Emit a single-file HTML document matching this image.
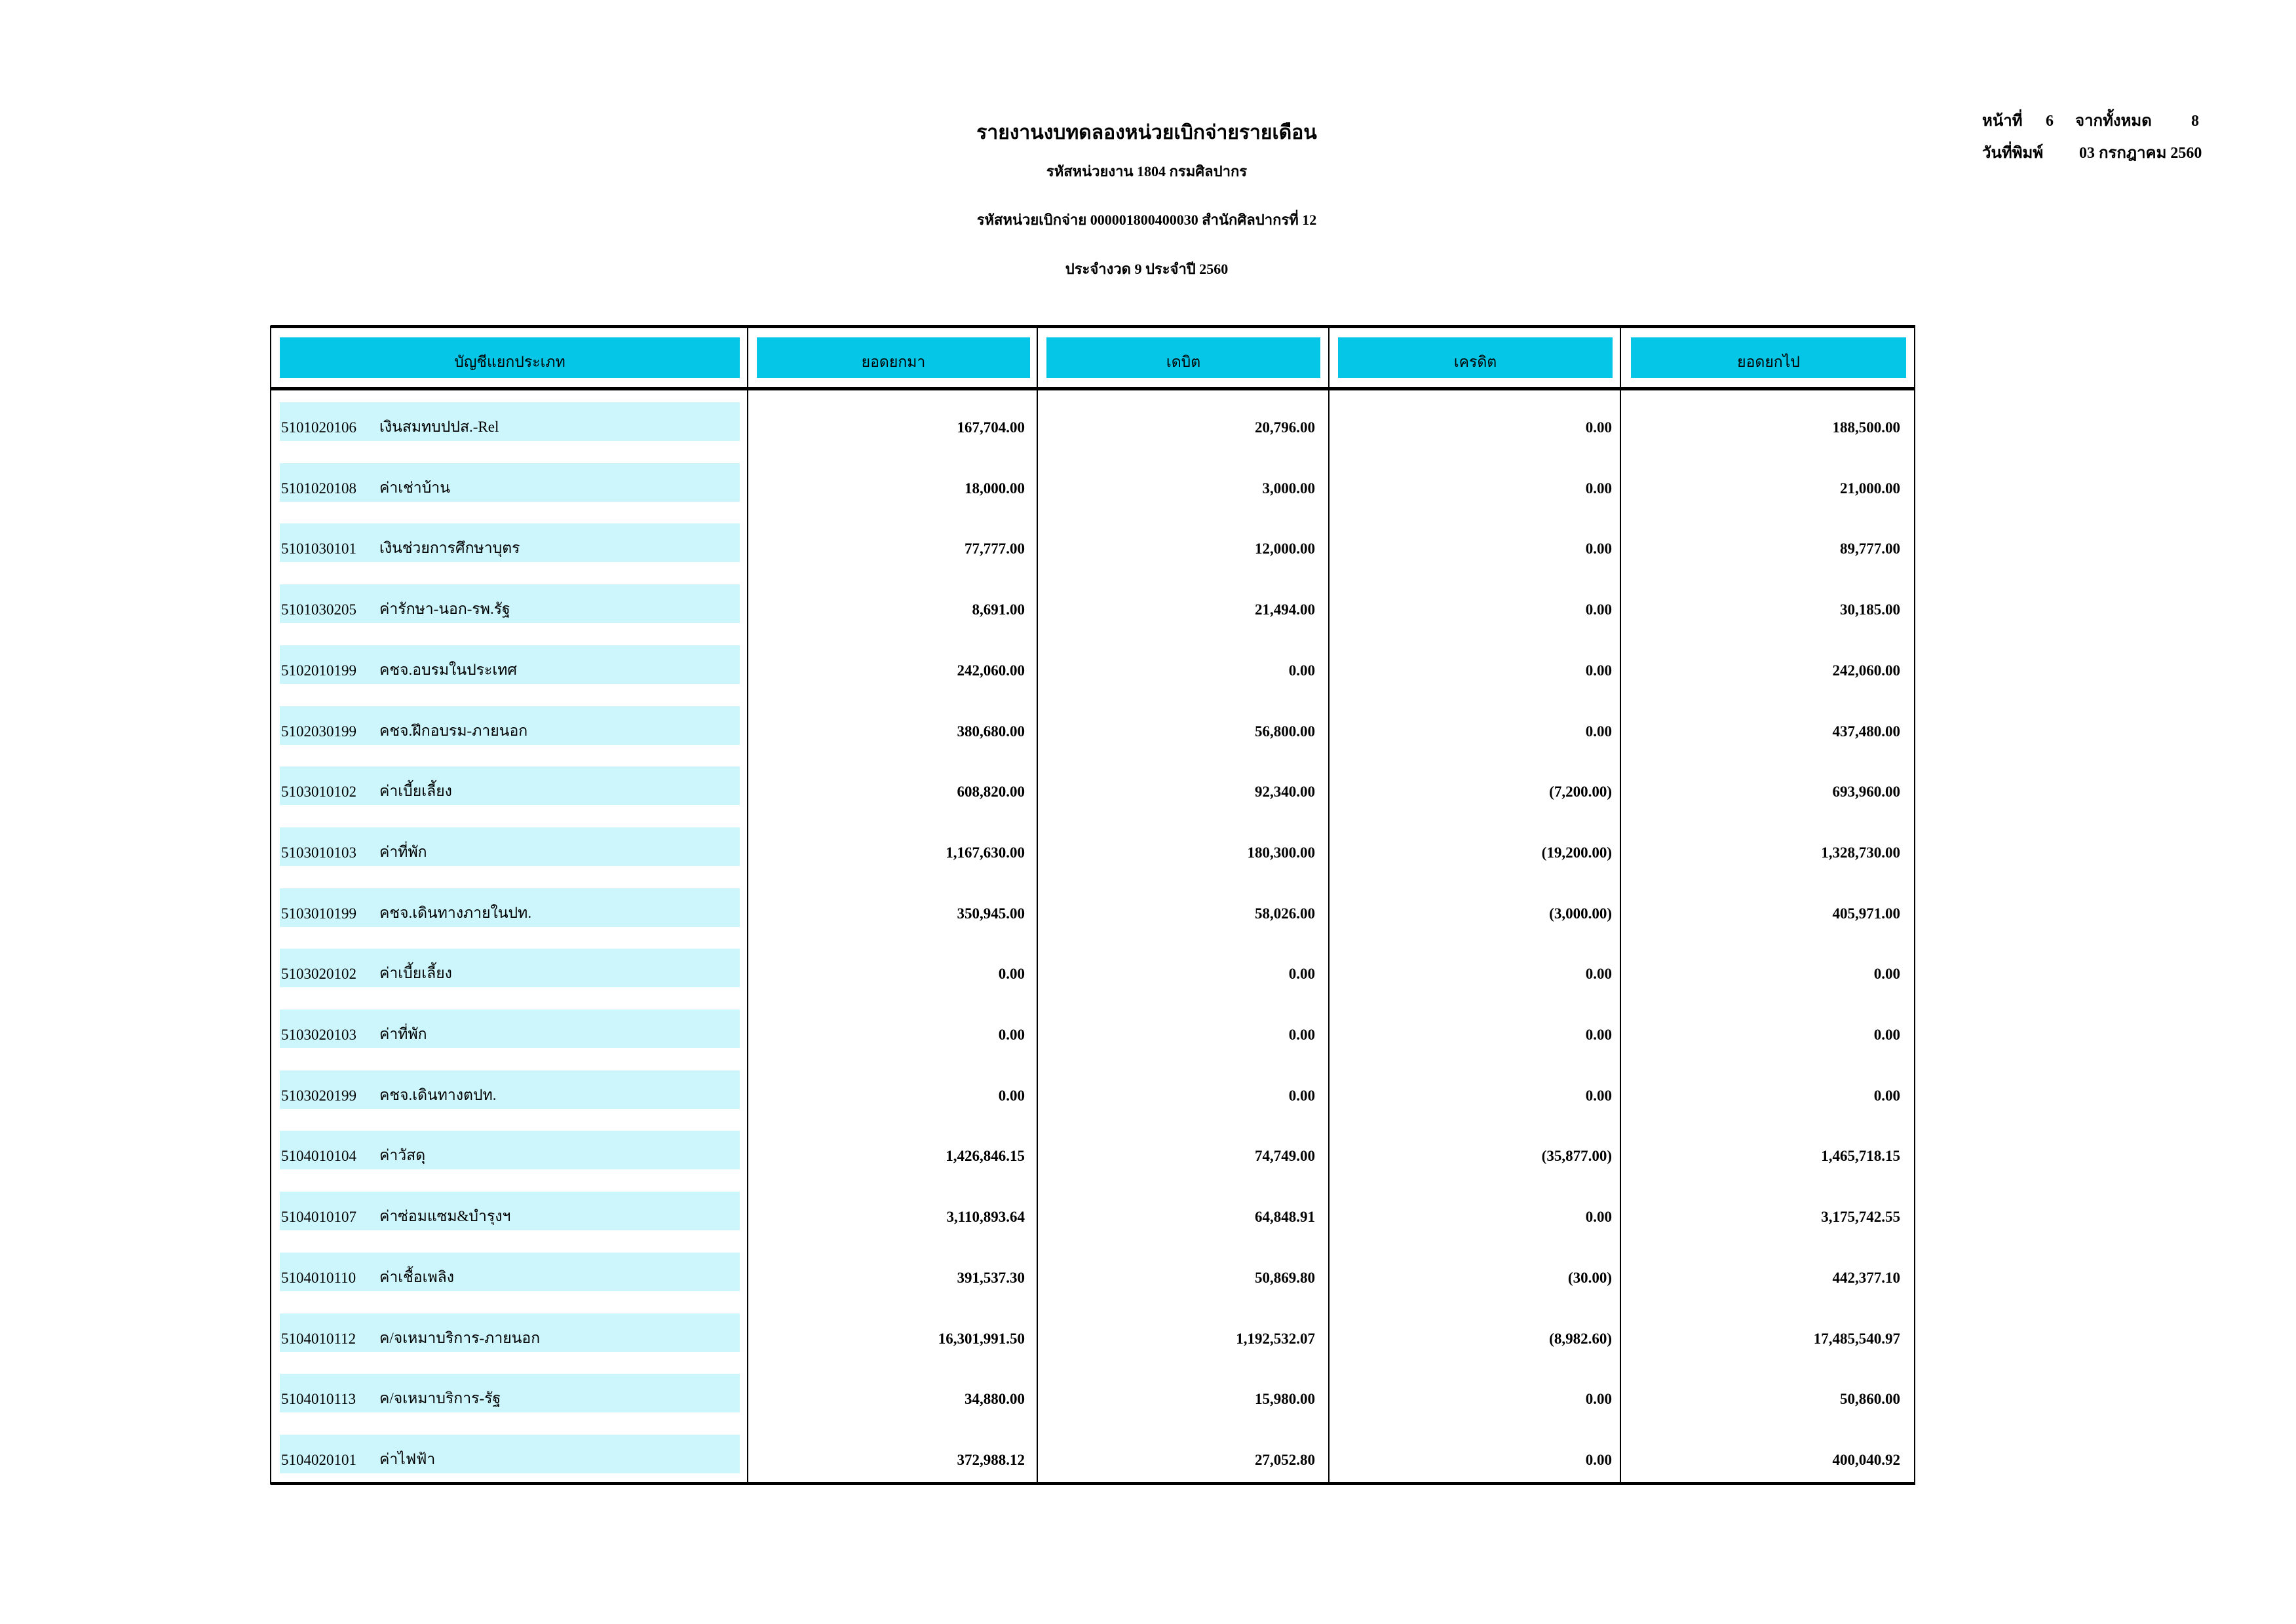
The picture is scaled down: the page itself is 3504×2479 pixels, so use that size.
<!DOCTYPE html>
<html><head><meta charset="utf-8"><style>
body{margin:0;width:3504px;height:2479px;background:#fff;position:relative;overflow:hidden;font-family:"Liberation Serif","DejaVu Serif",serif;color:#000}
.t{position:absolute;white-space:nowrap;line-height:1}
.c{text-align:center}
.b{font-weight:bold}
.box{position:absolute}
.hd{background:#05c6e6}
.lt{background:#ccf6fc}
.vl{position:absolute;top:497px;height:1769px;width:2px;background:#000}
.r{position:absolute;text-align:right;font-weight:bold;font-size:23px;white-space:nowrap;line-height:1}
.code{position:absolute;left:429px;font-size:23px;white-space:nowrap;line-height:1}
.nm{position:absolute;left:579px;font-size:23px;white-space:nowrap;line-height:1}
</style></head><body>
<div class="t c b" style="left:1250px;width:1000px;top:188px;font-size:30px">รายงานงบทดลองหน่วยเบิกจ่ายรายเดือน</div>
<div class="t c b" style="left:1250px;width:1000px;top:251px;font-size:22px">รหัสหน่วยงาน 1804 กรมศิลปากร</div>
<div class="t c b" style="left:1250px;width:1000px;top:325px;font-size:22px">รหัสหน่วยเบิกจ่าย 000001800400030 สำนักศิลปากรที่ 12</div>
<div class="t c b" style="left:1250px;width:1000px;top:400px;font-size:22px">ประจำงวด 9 ประจำปี 2560</div>
<div class="t b" style="left:3025px;top:173px;font-size:24px">หน้าที่</div>
<div class="t b" style="left:3122px;top:173px;font-size:24px">6</div>
<div class="t b" style="left:3167px;top:173px;font-size:24px">จากทั้งหมด</div>
<div class="t b" style="left:3344px;top:173px;font-size:24px">8</div>
<div class="t b" style="left:3025px;top:222px;font-size:24px">วันที่พิมพ์</div>
<div class="t b" style="left:3173px;top:222px;font-size:24px">03 กรกฎาคม 2560</div>

<div class="box" style="left:413px;top:496px;width:2510px;height:5px;background:#000"></div>
<div class="box" style="left:413px;top:591px;width:2510px;height:5px;background:#000"></div>
<div class="box" style="left:413px;top:2262px;width:2510px;height:5px;background:#000"></div>
<div class="vl" style="left:412px"></div>
<div class="vl" style="left:1140px"></div>
<div class="vl" style="left:1582px"></div>
<div class="vl" style="left:2027px"></div>
<div class="vl" style="left:2472px"></div>
<div class="vl" style="left:2921px"></div>

<div class="box hd" style="left:427px;top:515px;width:702px;height:62px"></div>
<div class="box hd" style="left:1155px;top:515px;width:417px;height:62px"></div>
<div class="box hd" style="left:1597px;top:515px;width:418px;height:62px"></div>
<div class="box hd" style="left:2042px;top:515px;width:419px;height:62px"></div>
<div class="box hd" style="left:2489px;top:515px;width:420px;height:62px"></div>
<div class="t c" style="left:427px;width:702px;top:541px;font-size:23px">บัญชีแยกประเภท</div>
<div class="t c" style="left:1155px;width:417px;top:541px;font-size:23px">ยอดยกมา</div>
<div class="t c" style="left:1597px;width:418px;top:541px;font-size:23px">เดบิต</div>
<div class="t c" style="left:2042px;width:419px;top:541px;font-size:23px">เครดิต</div>
<div class="t c" style="left:2489px;width:420px;top:541px;font-size:23px">ยอดยกไป</div>

<div id="rows"></div>
<script>
(function(){
var d=[
["5101020106","เงินสมทบปปส.-Rel","167,704.00","20,796.00","0.00","188,500.00"],
["5101020108","ค่าเช่าบ้าน","18,000.00","3,000.00","0.00","21,000.00"],
["5101030101","เงินช่วยการศึกษาบุตร","77,777.00","12,000.00","0.00","89,777.00"],
["5101030205","ค่ารักษา-นอก-รพ.รัฐ","8,691.00","21,494.00","0.00","30,185.00"],
["5102010199","คชจ.อบรมในประเทศ","242,060.00","0.00","0.00","242,060.00"],
["5102030199","คชจ.ฝึกอบรม-ภายนอก","380,680.00","56,800.00","0.00","437,480.00"],
["5103010102","ค่าเบี้ยเลี้ยง","608,820.00","92,340.00","(7,200.00)","693,960.00"],
["5103010103","ค่าที่พัก","1,167,630.00","180,300.00","(19,200.00)","1,328,730.00"],
["5103010199","คชจ.เดินทางภายในปท.","350,945.00","58,026.00","(3,000.00)","405,971.00"],
["5103020102","ค่าเบี้ยเลี้ยง","0.00","0.00","0.00","0.00"],
["5103020103","ค่าที่พัก","0.00","0.00","0.00","0.00"],
["5103020199","คชจ.เดินทางตปท.","0.00","0.00","0.00","0.00"],
["5104010104","ค่าวัสดุ","1,426,846.15","74,749.00","(35,877.00)","1,465,718.15"],
["5104010107","ค่าซ่อมแซม&บำรุงฯ","3,110,893.64","64,848.91","0.00","3,175,742.55"],
["5104010110","ค่าเชื้อเพลิง","391,537.30","50,869.80","(30.00)","442,377.10"],
["5104010112","ค/จเหมาบริการ-ภายนอก","16,301,991.50","1,192,532.07","(8,982.60)","17,485,540.97"],
["5104010113","ค/จเหมาบริการ-รัฐ","34,880.00","15,980.00","0.00","50,860.00"],
["5104020101","ค่าไฟฟ้า","372,988.12","27,052.80","0.00","400,040.92"]];
var rights=[1564,2007,2460,2900],h="";
for(var i=0;i<d.length;i++){var yy=Math.round(614+i*92.7),ty=yy+26;
h+='<div class="box lt" style="left:427px;top:'+yy+'px;width:702px;height:59px"></div>';
h+='<div class="code" style="top:'+(ty+1)+'px">'+d[i][0]+'</div>';
h+='<div class="nm" style="top:'+ty+'px">'+d[i][1]+'</div>';
for(var j=0;j<4;j++)h+='<div class="r" style="left:'+(rights[j]-400)+'px;width:400px;top:'+(ty+1)+'px">'+d[i][2+j]+'</div>';}
document.getElementById('rows').innerHTML=h;
})();
</script>
</body></html>
